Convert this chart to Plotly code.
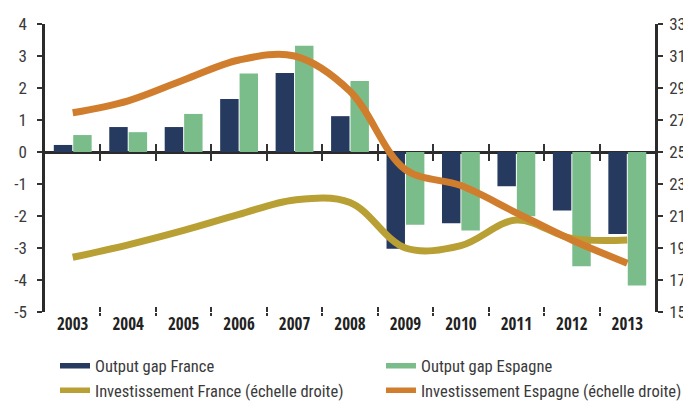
import plotly.graph_objects as go

years = ["2003", "2004", "2005", "2006", "2007", "2008", "2009", "2010", "2011", "2012", "2013"]
output_gap_france = [0.22, 0.78, 0.78, 1.66, 2.47, 1.12, -3.02, -2.23, -1.07, -1.83, -2.56]
output_gap_espagne = [0.53, 0.62, 1.19, 2.45, 3.32, 2.22, -2.27, -2.45, -2.01, -3.57, -4.17]
invest_france = [18.42, 19.2, 20.1, 21.1, 22.0, 21.85, 19.0, 19.15, 20.75, 19.6, 19.5]
invest_espagne = [27.45, 28.2, 29.5, 30.75, 31.0, 28.8, 23.9, 22.9, 21.2, 19.5, 18.05]

names = ["Output gap France", "Output gap Espagne",
         "Investissement France (échelle droite)", "Investissement Espagne (échelle droite)"]

left_range = [-5, 4]
right_range = [15, 33]
left_ticks = list(range(-5, 5))
right_ticks = list(range(15, 34, 2))

C_FR = "#26395F"
C_ES = "#7BBD8A"
C_IFR = "#B9A035"
C_IES = "#D07E2E"
AX = "#2b2b2b"
TXT = "#3a3a3a"
FONT = "Roboto Condensed, Liberation Sans, sans-serif"
FONT_B = "Open Sans Condensed, Roboto Condensed, Liberation Sans, sans-serif"

x_idx = list(range(len(years)))
boundaries = [i + 0.5 for i in x_idx[:-1]]
x_range = [-0.5, len(years) - 0.5]
zero_frac = (0 - left_range[0]) / (left_range[1] - left_range[0])

fig = go.Figure()

# legend-only swatches (wide rectangles like the reference), two columns
legend_cols = ["legend", "legend2", "legend", "legend2"]
for nm, col, lg in zip(names, [C_FR, C_ES, C_IFR, C_IES], legend_cols):
    fig.add_trace(go.Scatter(x=[None], y=[None], mode="lines", name=nm, legend=lg,
                             line=dict(color=col, width=5.5), hoverinfo="skip"))

fig.add_trace(go.Bar(x=x_idx, y=output_gap_france, marker=dict(color=C_FR, line=dict(width=0)),
                     showlegend=False, name=names[0]))
fig.add_trace(go.Bar(x=x_idx, y=output_gap_espagne, marker=dict(color=C_ES, line=dict(width=0)),
                     showlegend=False, name=names[1]))

fig.add_trace(go.Scatter(x=x_idx, y=invest_france, yaxis="y2", mode="lines", name=names[2],
                         showlegend=False,
                         line=dict(color=C_IFR, width=7, shape="spline", smoothing=1)))
fig.add_trace(go.Scatter(x=x_idx, y=invest_espagne, yaxis="y2", mode="lines", name=names[3],
                         showlegend=False,
                         line=dict(color=C_IES, width=7, shape="spline", smoothing=1)))

# dummy traces to register the tick-only x axes
for ax in ["x2", "x3", "x4", "x5"]:
    fig.add_trace(go.Scatter(x=[None], y=[None], xaxis=ax, yaxis="y", showlegend=False,
                             hoverinfo="skip"))

common_x = dict(range=x_range, showgrid=False, zeroline=False, fixedrange=True)
tick_x = dict(tickvals=boundaries, tickwidth=1.5, tickcolor="#333", showticklabels=False,
              showline=False, overlaying="x")

legend_common = dict(orientation="v", y=-0.127, yanchor="top", xanchor="left",
                     font=dict(family=FONT, size=16.5, color=TXT), bgcolor="rgba(0,0,0,0)",
                     itemwidth=30, tracegroupgap=0)

# the page body adds an 8px offset, so the figure is 8px smaller and margins shifted
fig.update_layout(
    width=683, height=393,
    margin=dict(l=37, r=36, t=16, b=89, autoexpand=False),
    paper_bgcolor="white", plot_bgcolor="white",
    barmode="group", bargap=0.3, bargroupgap=0.05,
    font=dict(family=FONT, color=TXT, size=16),
    xaxis=dict(**common_x, tickvals=x_idx, ticktext=years, ticks="", showline=False,
               tickfont=dict(family=FONT_B, size=17, color="#222", weight="bold")),
    xaxis2=dict(**common_x, **tick_x, anchor="y", ticks="outside", ticklen=3),
    xaxis5=dict(**common_x, **tick_x, anchor="y", ticks="inside", ticklen=5),
    xaxis3=dict(**common_x, **tick_x, anchor="free", position=zero_frac, ticks="outside", ticklen=8),
    xaxis4=dict(**common_x, **tick_x, anchor="free", position=zero_frac, ticks="inside", ticklen=8),
    yaxis=dict(range=left_range, tickvals=left_ticks, ticktext=[str(v) for v in left_ticks],
               showgrid=False, zeroline=True,
               zerolinecolor=AX, zerolinewidth=3, showline=True, linecolor=AX, linewidth=2.5,
               ticks="outside", ticklen=5, tickwidth=1.5, tickcolor="#333", ticklabelstandoff=7,
               tickfont=dict(family=FONT, size=17, color=TXT), fixedrange=True),
    yaxis2=dict(range=right_range, tickvals=right_ticks, ticktext=[str(v) for v in right_ticks],
                overlaying="y", side="right",
                showgrid=False, zeroline=False, showline=True, linecolor=AX, linewidth=2.5,
                ticks="outside", ticklen=5, tickwidth=1.5, tickcolor="#333", ticklabelstandoff=3,
                tickfont=dict(family=FONT, size=17, color=TXT), fixedrange=True),
    legend=dict(**legend_common, x=0.0164),
    legend2=dict(**legend_common, x=0.5508),
    showlegend=True,
)

fig.write_html("out.html")
